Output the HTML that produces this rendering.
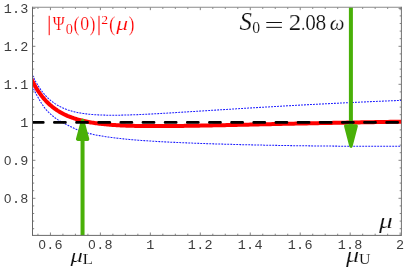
<!DOCTYPE html>
<html><head><meta charset="utf-8"><title>plot</title>
<style>
html,body{margin:0;padding:0;background:#fff;}
body{width:407px;height:268px;overflow:hidden;font-family:"Liberation Sans",sans-serif;}
svg{display:block;will-change:transform;}
.mono text{font-family:"Liberation Mono",monospace;font-size:12.2px;fill:#3c3c3c;text-anchor:middle;}
.mono text.z{font-family:"Liberation Sans",sans-serif;font-size:11.9px;}
.ser{font-family:"Liberation Serif",serif;font-size:20.0px;stroke:#fff;stroke-width:0.3px;}
.ser rect{stroke:none;}
</style></head><body>
<svg width="407" height="268" viewBox="0 0 407 268">
<rect width="407" height="268" fill="#fff"/>
<defs><clipPath id="c"><rect x="32.5" y="7.25" width="368.9" height="228.2"/></clipPath></defs>
<path d="M37.94,235.4 v-1.7 M37.94,7.25 v1.7 M50.43,235.4 v-2.9 M50.43,7.25 v2.9 M62.92,235.4 v-1.7 M62.92,7.25 v1.7 M75.41,235.4 v-1.7 M75.41,7.25 v1.7 M87.90,235.4 v-1.7 M87.90,7.25 v1.7 M100.39,235.4 v-2.9 M100.39,7.25 v2.9 M112.88,235.4 v-1.7 M112.88,7.25 v1.7 M125.37,235.4 v-1.7 M125.37,7.25 v1.7 M137.86,235.4 v-1.7 M137.86,7.25 v1.7 M150.35,235.4 v-2.9 M150.35,7.25 v2.9 M162.84,235.4 v-1.7 M162.84,7.25 v1.7 M175.33,235.4 v-1.7 M175.33,7.25 v1.7 M187.82,235.4 v-1.7 M187.82,7.25 v1.7 M200.31,235.4 v-2.9 M200.31,7.25 v2.9 M212.80,235.4 v-1.7 M212.80,7.25 v1.7 M225.29,235.4 v-1.7 M225.29,7.25 v1.7 M237.78,235.4 v-1.7 M237.78,7.25 v1.7 M250.27,235.4 v-2.9 M250.27,7.25 v2.9 M262.76,235.4 v-1.7 M262.76,7.25 v1.7 M275.25,235.4 v-1.7 M275.25,7.25 v1.7 M287.74,235.4 v-1.7 M287.74,7.25 v1.7 M300.23,235.4 v-2.9 M300.23,7.25 v2.9 M312.72,235.4 v-1.7 M312.72,7.25 v1.7 M325.21,235.4 v-1.7 M325.21,7.25 v1.7 M337.70,235.4 v-1.7 M337.70,7.25 v1.7 M350.19,235.4 v-2.9 M350.19,7.25 v2.9 M362.68,235.4 v-1.7 M362.68,7.25 v1.7 M375.17,235.4 v-1.7 M375.17,7.25 v1.7 M387.66,235.4 v-1.7 M387.66,7.25 v1.7 M400.15,235.4 v-2.9 M400.15,7.25 v2.9 M32.5,228.70 h1.7 M401.4,228.70 h-1.7 M32.5,221.10 h1.7 M401.4,221.10 h-1.7 M32.5,213.50 h1.7 M401.4,213.50 h-1.7 M32.5,205.90 h1.7 M401.4,205.90 h-1.7 M32.5,198.30 h2.9 M401.4,198.30 h-2.9 M32.5,190.70 h1.7 M401.4,190.70 h-1.7 M32.5,183.10 h1.7 M401.4,183.10 h-1.7 M32.5,175.50 h1.7 M401.4,175.50 h-1.7 M32.5,167.90 h1.7 M401.4,167.90 h-1.7 M32.5,160.30 h2.9 M401.4,160.30 h-2.9 M32.5,152.70 h1.7 M401.4,152.70 h-1.7 M32.5,145.10 h1.7 M401.4,145.10 h-1.7 M32.5,137.50 h1.7 M401.4,137.50 h-1.7 M32.5,129.90 h1.7 M401.4,129.90 h-1.7 M32.5,122.30 h2.9 M401.4,122.30 h-2.9 M32.5,114.70 h1.7 M401.4,114.70 h-1.7 M32.5,107.10 h1.7 M401.4,107.10 h-1.7 M32.5,99.50 h1.7 M401.4,99.50 h-1.7 M32.5,91.90 h1.7 M401.4,91.90 h-1.7 M32.5,84.30 h2.9 M401.4,84.30 h-2.9 M32.5,76.70 h1.7 M401.4,76.70 h-1.7 M32.5,69.10 h1.7 M401.4,69.10 h-1.7 M32.5,61.50 h1.7 M401.4,61.50 h-1.7 M32.5,53.90 h1.7 M401.4,53.90 h-1.7 M32.5,46.30 h2.9 M401.4,46.30 h-2.9 M32.5,38.70 h1.7 M401.4,38.70 h-1.7 M32.5,31.10 h1.7 M401.4,31.10 h-1.7 M32.5,23.50 h1.7 M401.4,23.50 h-1.7 M32.5,15.90 h1.7 M401.4,15.90 h-1.7 M32.5,8.30 h2.9 M401.4,8.30 h-2.9" stroke="#666" stroke-width="0.8" fill="none"/>
<g clip-path="url(#c)">
<path d="M27.00,61.32 L27.03,61.41 L27.10,61.60 L27.19,61.89 L27.32,62.24 L27.46,62.66 L27.63,63.13 L27.82,63.67 L28.02,64.25 L28.25,64.87 L28.50,65.54 L28.76,66.25 L29.04,66.99 L29.34,67.76 L29.65,68.56 L29.98,69.39 L30.33,70.25 L30.69,71.12 L31.06,72.01 L31.45,72.92 L31.86,73.84 L32.28,74.77 L32.71,75.71 L33.16,76.66 L33.63,77.61 L34.10,78.57 L34.59,79.53 L35.09,80.49 L35.61,81.44 L36.14,82.40 L36.68,83.34 L37.24,84.29 L37.81,85.22 L38.39,86.15 L38.98,87.07 L39.58,87.98 L40.20,88.88 L40.83,89.76 L41.47,90.63 L42.12,91.49 L42.79,92.34 L43.47,93.17 L44.16,93.98 L44.86,94.78 L45.57,95.56 L46.29,96.33 L47.02,97.08 L47.77,97.81 L48.53,98.52 L49.30,99.22 L50.07,99.90 L50.86,100.56 L51.67,101.21 L52.48,101.83 L53.30,102.44 L54.13,103.03 L54.98,103.61 L55.83,104.16 L56.70,104.70 L57.57,105.23 L58.46,105.73 L59.36,106.22 L60.26,106.69 L61.18,107.15 L62.11,107.59 L63.04,108.01 L63.99,108.42 L64.95,108.81 L65.92,109.19 L66.90,109.55 L67.88,109.90 L68.88,110.23 L69.89,110.55 L70.91,110.86 L71.93,111.15 L72.97,111.43 L74.02,111.70 L75.07,111.95 L76.14,112.20 L77.22,112.43 L78.30,112.65 L79.40,112.85 L80.50,113.05 L81.62,113.24 L82.74,113.41 L83.87,113.58 L85.01,113.74 L86.17,113.89 L87.33,114.02 L88.50,114.15 L89.68,114.27 L90.86,114.38 L92.06,114.49 L93.27,114.58 L94.48,114.67 L95.71,114.75 L96.94,114.83 L98.19,114.89 L99.44,114.95 L100.70,115.01 L101.97,115.05 L103.25,115.09 L104.54,115.13 L105.83,115.16 L107.14,115.18 L108.45,115.20 L109.78,115.21 L111.11,115.22 L112.45,115.22 L113.80,115.22 L115.16,115.21 L116.52,115.20 L117.90,115.19 L119.28,115.17 L120.67,115.15 L122.08,115.12 L123.49,115.09 L124.90,115.06 L126.33,115.02 L127.77,114.98 L129.21,114.93 L130.66,114.89 L132.12,114.83 L133.59,114.78 L135.07,114.73 L136.55,114.67 L138.05,114.61 L139.55,114.54 L141.06,114.48 L142.58,114.41 L144.11,114.34 L145.64,114.26 L147.19,114.19 L148.74,114.11 L150.30,114.03 L151.87,113.95 L153.44,113.87 L155.03,113.79 L156.62,113.70 L158.22,113.61 L159.83,113.52 L161.45,113.43 L163.07,113.34 L164.71,113.25 L166.35,113.15 L168.00,113.05 L169.65,112.96 L171.32,112.86 L172.99,112.76 L174.67,112.66 L176.36,112.56 L178.06,112.45 L179.76,112.35 L181.47,112.24 L183.20,112.14 L184.92,112.03 L186.66,111.92 L188.40,111.82 L190.15,111.71 L191.91,111.60 L193.68,111.49 L195.46,111.38 L197.24,111.27 L199.03,111.15 L200.83,111.04 L202.63,110.93 L204.45,110.81 L206.27,110.70 L208.10,110.58 L209.93,110.47 L211.78,110.35 L213.63,110.24 L215.49,110.12 L217.35,110.00 L219.23,109.89 L221.11,109.77 L223.00,109.65 L224.90,109.53 L226.80,109.41 L228.71,109.29 L230.63,109.18 L232.56,109.06 L234.49,108.94 L236.43,108.82 L238.38,108.70 L240.34,108.58 L242.31,108.46 L244.28,108.34 L246.26,108.22 L248.24,108.10 L250.24,107.98 L252.24,107.86 L254.24,107.74 L256.26,107.62 L258.28,107.50 L260.31,107.38 L262.35,107.26 L264.40,107.14 L266.45,107.02 L268.51,106.90 L270.58,106.78 L272.65,106.66 L274.73,106.54 L276.82,106.42 L278.91,106.30 L281.02,106.18 L283.13,106.06 L285.24,105.94 L287.37,105.82 L289.50,105.70 L291.64,105.58 L293.79,105.47 L295.94,105.35 L298.10,105.23 L300.27,105.11 L302.44,104.99 L304.62,104.88 L306.81,104.76 L309.01,104.64 L311.21,104.53 L313.42,104.41 L315.64,104.30 L317.86,104.18 L320.09,104.06 L322.33,103.95 L324.57,103.84 L326.82,103.72 L329.08,103.61 L331.35,103.49 L333.62,103.38 L335.90,103.27 L338.19,103.16 L340.48,103.04 L342.78,102.93 L345.09,102.82 L347.40,102.71 L349.72,102.60 L352.05,102.49 L354.39,102.38 L356.73,102.27 L359.08,102.17 L361.43,102.06 L363.80,101.95 L366.17,101.84 L368.54,101.74 L370.93,101.63 L373.32,101.53 L375.71,101.42 L378.12,101.32 L380.53,101.22 L382.94,101.11 L385.37,101.01 L387.80,100.91 L390.23,100.81 L392.68,100.71 L395.13,100.61 L397.59,100.51 L400.05,100.41 L402.52,100.31 L405.00,100.21" fill="none" stroke="#1c1cff" stroke-width="1.05" stroke-dasharray="1.9 1.1"/>
<path d="M27.00,72.03 L27.03,72.12 L27.10,72.32 L27.19,72.61 L27.32,72.97 L27.46,73.40 L27.63,73.89 L27.82,74.44 L28.02,75.03 L28.25,75.68 L28.50,76.36 L28.76,77.09 L29.04,77.86 L29.34,78.66 L29.65,79.49 L29.98,80.34 L30.33,81.23 L30.69,82.13 L31.06,83.06 L31.45,84.01 L31.86,84.97 L32.28,85.94 L32.71,86.93 L33.16,87.93 L33.63,88.93 L34.10,89.94 L34.59,90.96 L35.09,91.98 L35.61,93.00 L36.14,94.02 L36.68,95.04 L37.24,96.06 L37.81,97.08 L38.39,98.10 L38.98,99.12 L39.58,100.13 L40.20,101.15 L40.83,102.16 L41.47,103.18 L42.12,104.18 L42.79,105.18 L43.47,106.17 L44.16,107.13 L44.86,108.07 L45.57,108.98 L46.29,109.85 L47.02,110.68 L47.77,111.47 L48.53,112.24 L49.30,112.97 L50.07,113.68 L50.86,114.38 L51.67,115.07 L52.48,115.76 L53.30,116.43 L54.13,117.09 L54.98,117.75 L55.83,118.38 L56.70,119.00 L57.57,119.60 L58.46,120.18 L59.36,120.73 L60.26,121.27 L61.18,121.80 L62.11,122.30 L63.04,122.80 L63.99,123.30 L64.95,123.79 L65.92,124.28 L66.90,124.78 L67.88,125.28 L68.88,125.79 L69.89,126.30 L70.91,126.82 L71.93,127.33 L72.97,127.84 L74.02,128.34 L75.07,128.83 L76.14,129.30 L77.22,129.75 L78.30,130.18 L79.40,130.59 L80.50,130.99 L81.62,131.36 L82.74,131.72 L83.87,132.06 L85.01,132.39 L86.17,132.70 L87.33,133.01 L88.50,133.30 L89.68,133.59 L90.86,133.87 L92.06,134.14 L93.27,134.40 L94.48,134.66 L95.71,134.91 L96.94,135.15 L98.19,135.38 L99.44,135.61 L100.70,135.84 L101.97,136.05 L103.25,136.27 L104.54,136.47 L105.83,136.67 L107.14,136.87 L108.45,137.06 L109.78,137.25 L111.11,137.43 L112.45,137.61 L113.80,137.78 L115.16,137.95 L116.52,138.11 L117.90,138.27 L119.28,138.43 L120.67,138.58 L122.08,138.73 L123.49,138.88 L124.90,139.02 L126.33,139.16 L127.77,139.30 L129.21,139.43 L130.66,139.56 L132.12,139.69 L133.59,139.81 L135.07,139.94 L136.55,140.06 L138.05,140.18 L139.55,140.29 L141.06,140.40 L142.58,140.51 L144.11,140.62 L145.64,140.73 L147.19,140.84 L148.74,140.94 L150.30,141.04 L151.87,141.14 L153.44,141.24 L155.03,141.33 L156.62,141.43 L158.22,141.52 L159.83,141.61 L161.45,141.70 L163.07,141.79 L164.71,141.87 L166.35,141.96 L168.00,142.04 L169.65,142.13 L171.32,142.21 L172.99,142.29 L174.67,142.37 L176.36,142.44 L178.06,142.52 L179.76,142.60 L181.47,142.67 L183.20,142.75 L184.92,142.82 L186.66,142.89 L188.40,142.96 L190.15,143.03 L191.91,143.10 L193.68,143.17 L195.46,143.23 L197.24,143.30 L199.03,143.36 L200.83,143.43 L202.63,143.49 L204.45,143.56 L206.27,143.62 L208.10,143.68 L209.93,143.74 L211.78,143.80 L213.63,143.86 L215.49,143.92 L217.35,143.97 L219.23,144.03 L221.11,144.09 L223.00,144.14 L224.90,144.20 L226.80,144.25 L228.71,144.30 L230.63,144.35 L232.56,144.41 L234.49,144.46 L236.43,144.51 L238.38,144.56 L240.34,144.61 L242.31,144.66 L244.28,144.70 L246.26,144.75 L248.24,144.80 L250.24,144.84 L252.24,144.89 L254.24,144.93 L256.26,144.98 L258.28,145.02 L260.31,145.06 L262.35,145.10 L264.40,145.15 L266.45,145.19 L268.51,145.23 L270.58,145.27 L272.65,145.30 L274.73,145.34 L276.82,145.38 L278.91,145.42 L281.02,145.45 L283.13,145.49 L285.24,145.52 L287.37,145.56 L289.50,145.59 L291.64,145.62 L293.79,145.66 L295.94,145.69 L298.10,145.72 L300.27,145.75 L302.44,145.78 L304.62,145.81 L306.81,145.83 L309.01,145.86 L311.21,145.89 L313.42,145.91 L315.64,145.94 L317.86,145.96 L320.09,145.99 L322.33,146.01 L324.57,146.03 L326.82,146.05 L329.08,146.07 L331.35,146.09 L333.62,146.11 L335.90,146.13 L338.19,146.15 L340.48,146.17 L342.78,146.18 L345.09,146.20 L347.40,146.21 L349.72,146.23 L352.05,146.24 L354.39,146.25 L356.73,146.26 L359.08,146.27 L361.43,146.28 L363.80,146.29 L366.17,146.30 L368.54,146.31 L370.93,146.31 L373.32,146.32 L375.71,146.32 L378.12,146.33 L380.53,146.33 L382.94,146.33 L385.37,146.33 L387.80,146.33 L390.23,146.33 L392.68,146.33 L395.13,146.33 L397.59,146.33 L400.05,146.32 L402.52,146.32 L405.00,146.31" fill="none" stroke="#1c1cff" stroke-width="1.05" stroke-dasharray="1.9 1.1"/>
<path d="M27.00,68.86 L27.03,68.94 L27.10,69.11 L27.19,69.35 L27.32,69.66 L27.46,70.03 L27.63,70.45 L27.82,70.91 L28.02,71.42 L28.25,71.97 L28.50,72.56 L28.76,73.19 L29.04,73.84 L29.34,74.53 L29.65,75.24 L29.98,75.98 L30.33,76.74 L30.69,77.52 L31.06,78.32 L31.45,79.14 L31.86,79.97 L32.28,80.81 L32.71,81.66 L33.16,82.53 L33.63,83.40 L34.10,84.27 L34.59,85.16 L35.09,86.04 L35.61,86.93 L36.14,87.82 L36.68,88.70 L37.24,89.59 L37.81,90.47 L38.39,91.35 L38.98,92.22 L39.58,93.09 L40.20,93.95 L40.83,94.80 L41.47,95.64 L42.12,96.48 L42.79,97.30 L43.47,98.12 L44.16,98.92 L44.86,99.71 L45.57,100.49 L46.29,101.26 L47.02,102.02 L47.77,102.76 L48.53,103.49 L49.30,104.21 L50.07,104.91 L50.86,105.60 L51.67,106.28 L52.48,106.94 L53.30,107.58 L54.13,108.22 L54.98,108.84 L55.83,109.44 L56.70,110.03 L57.57,110.61 L58.46,111.17 L59.36,111.72 L60.26,112.25 L61.18,112.77 L62.11,113.28 L63.04,113.77 L63.99,114.25 L64.95,114.72 L65.92,115.17 L66.90,115.61 L67.88,116.04 L68.88,116.45 L69.89,116.85 L70.91,117.24 L71.93,117.62 L72.97,117.99 L74.02,118.34 L75.07,118.68 L76.14,119.02 L77.22,119.34 L78.30,119.65 L79.40,119.95 L80.50,120.24 L81.62,120.52 L82.74,120.79 L83.87,121.05 L85.01,121.30 L86.17,121.54 L87.33,121.78 L88.50,122.00 L89.68,122.22 L90.86,122.43 L92.06,122.63 L93.27,122.82 L94.48,123.00 L95.71,123.18 L96.94,123.35 L98.19,123.52 L99.44,123.67 L100.70,123.82 L101.97,123.96 L103.25,124.10 L104.54,124.23 L105.83,124.36 L107.14,124.48 L108.45,124.59 L109.78,124.70 L111.11,124.80 L112.45,124.90 L113.80,124.99 L115.16,125.08 L116.52,125.16 L117.90,125.24 L119.28,125.32 L120.67,125.39 L122.08,125.46 L123.49,125.52 L124.90,125.58 L126.33,125.63 L127.77,125.68 L129.21,125.73 L130.66,125.77 L132.12,125.81 L133.59,125.85 L135.07,125.89 L136.55,125.92 L138.05,125.95 L139.55,125.97 L141.06,126.00 L142.58,126.02 L144.11,126.04 L145.64,126.05 L147.19,126.06 L148.74,126.07 L150.30,126.08 L151.87,126.09 L153.44,126.09 L155.03,126.10 L156.62,126.10 L158.22,126.10 L159.83,126.09 L161.45,126.09 L163.07,126.08 L164.71,126.07 L166.35,126.06 L168.00,126.05 L169.65,126.04 L171.32,126.02 L172.99,126.01 L174.67,125.99 L176.36,125.97 L178.06,125.95 L179.76,125.93 L181.47,125.91 L183.20,125.89 L184.92,125.87 L186.66,125.84 L188.40,125.81 L190.15,125.79 L191.91,125.76 L193.68,125.73 L195.46,125.70 L197.24,125.67 L199.03,125.64 L200.83,125.61 L202.63,125.57 L204.45,125.54 L206.27,125.51 L208.10,125.47 L209.93,125.44 L211.78,125.40 L213.63,125.36 L215.49,125.33 L217.35,125.29 L219.23,125.25 L221.11,125.21 L223.00,125.17 L224.90,125.13 L226.80,125.09 L228.71,125.05 L230.63,125.01 L232.56,124.97 L234.49,124.93 L236.43,124.89 L238.38,124.85 L240.34,124.80 L242.31,124.76 L244.28,124.72 L246.26,124.68 L248.24,124.63 L250.24,124.59 L252.24,124.55 L254.24,124.50 L256.26,124.46 L258.28,124.41 L260.31,124.37 L262.35,124.32 L264.40,124.28 L266.45,124.23 L268.51,124.19 L270.58,124.14 L272.65,124.10 L274.73,124.05 L276.82,124.01 L278.91,123.96 L281.02,123.92 L283.13,123.87 L285.24,123.83 L287.37,123.78 L289.50,123.74 L291.64,123.69 L293.79,123.65 L295.94,123.60 L298.10,123.56 L300.27,123.51 L302.44,123.47 L304.62,123.42 L306.81,123.38 L309.01,123.33 L311.21,123.29 L313.42,123.24 L315.64,123.20 L317.86,123.15 L320.09,123.11 L322.33,123.06 L324.57,123.02 L326.82,122.98 L329.08,122.93 L331.35,122.89 L333.62,122.85 L335.90,122.80 L338.19,122.76 L340.48,122.72 L342.78,122.67 L345.09,122.63 L347.40,122.59 L349.72,122.55 L352.05,122.50 L354.39,122.46 L356.73,122.42 L359.08,122.38 L361.43,122.34 L363.80,122.30 L366.17,122.26 L368.54,122.22 L370.93,122.18 L373.32,122.14 L375.71,122.10 L378.12,122.06 L380.53,122.02 L382.94,121.98 L385.37,121.94 L387.80,121.91 L390.23,121.87 L392.68,121.83 L395.13,121.79 L397.59,121.76 L400.05,121.72 L402.52,121.68 L405.00,121.65" fill="none" stroke="#ff0000" stroke-width="4.0"/>
</g>
<!-- arrows -->
<g fill="#49b008" stroke="none">
<rect x="80.55" y="139" width="4.0" height="96.4"/>
<path d="M77.60,139.20 L87.60,139.20 L82.60,120.50 Z" stroke="#49b008" stroke-width="3.4" stroke-linejoin="round"/>
<rect x="348.9" y="7.25" width="4.0" height="118"/>
<path d="M345.75,126.00 L356.15,126.00 L350.95,146.20 Z" stroke="#49b008" stroke-width="3.4" stroke-linejoin="round"/>
</g>
<g clip-path="url(#c)">
<path d="M32.2,122.4 H402" fill="none" stroke="#000" stroke-width="2.7" stroke-linecap="round" stroke-dasharray="11.1 11.05"/>
</g>
<!-- frame -->
<path d="M32.5,235.9 V6.75" stroke="#666" stroke-width="1" fill="none"/>
<path d="M32.5,235.4 H401.4" stroke="#6a6a6a" stroke-width="1" fill="none"/>
<path d="M32.5,7.25 H401.4" stroke="#8a8a8a" stroke-width="1.1" fill="none"/>
<path d="M401.4,235.9 V6.75" stroke="#707070" stroke-width="1" fill="none"/>
<g class="mono"><text transform="matrix(1.105 0 0 1 42.03 248.90)" class="z">0</text><text transform="matrix(1.105 0 0 1 50.33 248.90)">.</text><text transform="matrix(1.105 0 0 1 58.63 248.90)">6</text><text transform="matrix(1.105 0 0 1 91.99 248.90)" class="z">0</text><text transform="matrix(1.105 0 0 1 100.29 248.90)">.</text><text transform="matrix(1.105 0 0 1 108.59 248.90)">8</text><text transform="matrix(1.105 0 0 1 150.25 248.90)">1</text><text transform="matrix(1.105 0 0 1 191.91 248.90)">1</text><text transform="matrix(1.105 0 0 1 200.21 248.90)">.</text><text transform="matrix(1.105 0 0 1 208.51 248.90)">2</text><text transform="matrix(1.105 0 0 1 241.87 248.90)">1</text><text transform="matrix(1.105 0 0 1 250.17 248.90)">.</text><text transform="matrix(1.105 0 0 1 258.47 248.90)">4</text><text transform="matrix(1.105 0 0 1 291.83 248.90)">1</text><text transform="matrix(1.105 0 0 1 300.13 248.90)">.</text><text transform="matrix(1.105 0 0 1 308.43 248.90)">6</text><text transform="matrix(1.105 0 0 1 341.79 248.90)">1</text><text transform="matrix(1.105 0 0 1 350.09 248.90)">.</text><text transform="matrix(1.105 0 0 1 358.39 248.90)">8</text><text transform="matrix(1.105 0 0 1 400.05 248.90)">2</text><text transform="matrix(1.105 0 0 1 7.75 203.05)" class="z">0</text><text transform="matrix(1.105 0 0 1 16.05 203.05)">.</text><text transform="matrix(1.105 0 0 1 24.35 203.05)">8</text><text transform="matrix(1.105 0 0 1 7.75 165.05)" class="z">0</text><text transform="matrix(1.105 0 0 1 16.05 165.05)">.</text><text transform="matrix(1.105 0 0 1 24.35 165.05)">9</text><text transform="matrix(1.105 0 0 1 24.35 127.05)">1</text><text transform="matrix(1.105 0 0 1 7.75 89.05)">1</text><text transform="matrix(1.105 0 0 1 16.05 89.05)">.</text><text transform="matrix(1.105 0 0 1 24.35 89.05)">1</text><text transform="matrix(1.105 0 0 1 7.75 51.05)">1</text><text transform="matrix(1.105 0 0 1 16.05 51.05)">.</text><text transform="matrix(1.105 0 0 1 24.35 51.05)">2</text><text transform="matrix(1.105 0 0 1 7.75 13.05)">1</text><text transform="matrix(1.105 0 0 1 16.05 13.05)">.</text><text transform="matrix(1.105 0 0 1 24.35 13.05)">3</text></g>
<g class="ser" fill="#ff0000" style="stroke-width:0.2px"><rect x="48.7" y="15.8" width="1" height="19.4"/><text transform="matrix(0.8082 0 0 0.9769 52.719 30.100)">Ψ</text><text transform="matrix(0.7143 0 0 0.7333 65.629 33.753)">0</text><text transform="matrix(0.9020 0 0 1.0778 73.588 30.673)">(</text><text transform="matrix(0.8929 0 0 0.9704 80.186 30.206)">0</text><text transform="matrix(0.8462 0 0 1.0778 89.792 30.673)">)</text><rect x="98.5" y="15.8" width="1" height="19.4"/><text transform="matrix(0.6875 0 0 0.6591 101.281 23.700)">2</text><text transform="matrix(0.9412 0 0 1.0778 108.953 30.673)">(</text><text transform="matrix(1.1809 0 0 0.9179 116.300 29.845)" font-style="italic">μ</text><text transform="matrix(0.8462 0 0 1.0778 128.692 30.673)">)</text></g>
<g class="ser" fill="#111" style="stroke-width:0.15px"><text transform="matrix(1.2421 0 0 1.2164 239.552 30.057)" font-style="italic">S</text><text transform="matrix(0.7857 0 0 0.7926 252.171 33.441)">0</text><rect x="266.3" y="22.0" width="15.6" height="1"/><rect x="266.3" y="26.85" width="15.6" height="1"/><text transform="matrix(1.2500 0 0 1.1818 288.675 30.200)">2</text><text transform="matrix(0.7917 0 0 0.9565 301.371 30.113)">.</text><text transform="matrix(1.0595 0 0 1.1852 305.352 30.263)">0</text><text transform="matrix(1.0714 0 0 1.1852 315.543 30.263)">8</text><text transform="matrix(1.0400 0 0 1.0105 329.672 30.298)" font-style="italic">ω</text></g>
<g class="ser" fill="#111" style="stroke-width:0.15px"><text transform="matrix(1.3723 0 0 1.0970 379.000 228.393)" font-style="italic">μ</text><text transform="matrix(1.2340 0 0 0.9925 70.500 261.831)" font-style="italic">μ</text><text transform="matrix(0.8654 0 0 0.7231 82.481 263.800)">L</text><text transform="matrix(1.3085 0 0 1.0522 346.100 261.781)" font-style="italic">μ</text><text transform="matrix(0.7941 0 0 0.7727 358.982 264.345)">U</text></g>
</svg>
</body></html>
